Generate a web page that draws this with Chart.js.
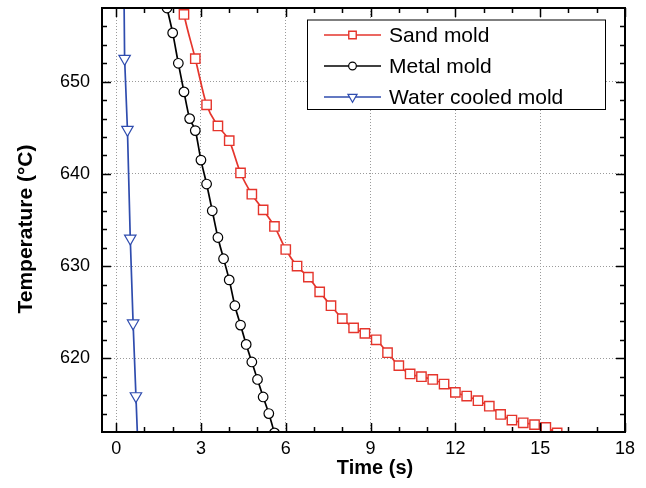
<!DOCTYPE html>
<html>
<head>
<meta charset="utf-8">
<script src="https://cdn.jsdelivr.net/npm/chart.js@4.4.1/dist/chart.umd.min.js"></script>
<style>
  html, body { margin: 0; padding: 0; background: #ffffff; }
  #wrap { width: 646px; height: 488px; }
</style>
</head>
<body>
<div id="wrap"><canvas id="c" width="646" height="488"></canvas></div>
<script>
// ---------- data ----------
const seriesNames = ['Sand mold', 'Metal mold', 'Water cooled mold'];

const sandTime = [2.0, 2.4, 2.8, 3.2, 3.6, 4.0, 4.4, 4.8, 5.2, 5.6, 6.0, 6.4, 6.8, 7.2, 7.6, 8.0, 8.4, 8.8,
                  9.2, 9.6, 10.0, 10.4, 10.8, 11.2, 11.6, 12.0, 12.4, 12.8, 13.2, 13.6, 14.0, 14.4, 14.8, 15.2, 15.6];
const sandTemp = [664.0, 657.3, 652.5, 647.5, 645.2, 643.6, 640.1, 637.8, 636.1, 634.3, 631.8, 630.0, 628.8, 627.2,
                  625.7, 624.3, 623.3, 622.7, 622.0, 620.6, 619.2, 618.3, 618.0, 617.7, 617.2, 616.3, 615.9, 615.4,
                  614.8, 613.9, 613.3, 613.0, 612.8, 612.5, 611.9];

const metalTime = [1.6, 1.8, 2.0, 2.2, 2.4, 2.6, 2.8, 3.0, 3.2, 3.4, 3.6, 3.8, 4.0, 4.2, 4.4, 4.6, 4.8, 5.0, 5.2, 5.4, 5.6];
const metalTemp = [661.0, 658.0, 655.3, 652.0, 648.9, 646.0, 644.7, 641.5, 638.9, 636.0, 633.1, 630.8, 628.5, 625.7,
                   623.6, 621.5, 619.6, 617.7, 615.8, 614.0, 611.9];

const waterTime = [0.2, 0.3, 0.4, 0.5, 0.6, 0.7, 0.8];
const waterTemp = [685.0, 652.5, 644.8, 633.0, 623.8, 615.9, 608.0];

const xTickLabels = [0, 3, 6, 9, 12, 15, 18];
const yTickLabels = [620, 630, 640, 650];
const xRange = [-0.5, 18];
const yRange = [612, 658];
const xMinorStep = 1;
const yMinorStep = 2;

const xTitle = 'Time (s)';
const yTitle = 'Temperature (°C)';

// ---------- helpers ----------
const toPoints = (xs, ys) => xs.map((x, i) => ({ x: x, y: ys[i] }));
const FONT = '"Liberation Sans", Arial, Helvetica, sans-serif';

const colors = { sand: '#e5352c', metal: '#000000', water: '#2f4cae' };

// frame, inward ticks on all sides, titles, legend
const decorations = {
  id: 'decorations',
  afterDraw(chart) {
    const { ctx, chartArea: a, scales: { x, y } } = chart;
    ctx.save();
    // ticks
    ctx.strokeStyle = '#000';
    ctx.lineWidth = 1.5;
    ctx.beginPath();
    for (let v = Math.ceil(xRange[0]); v <= xRange[1]; v += xMinorStep) {
      const px = Math.round(x.getPixelForValue(v)) + 0.5;
      const len = xTickLabels.includes(v) ? 9 : 5;
      ctx.moveTo(px, a.bottom); ctx.lineTo(px, a.bottom - len);
      ctx.moveTo(px, a.top); ctx.lineTo(px, a.top + len);
    }
    for (let v = yRange[0] + yMinorStep; v < yRange[1]; v += yMinorStep) {
      const py = Math.round(y.getPixelForValue(v)) + 0.5;
      const len = yTickLabels.includes(v) ? 9 : 5;
      ctx.moveTo(a.left, py); ctx.lineTo(a.left + len, py);
      ctx.moveTo(a.right, py); ctx.lineTo(a.right - len, py);
    }
    ctx.stroke();
    // frame
    ctx.lineWidth = 2;
    ctx.strokeRect(a.left, a.top, a.right - a.left, a.bottom - a.top);

    // axis titles
    ctx.fillStyle = '#000';
    ctx.textAlign = 'center';
    ctx.textBaseline = 'middle';
    ctx.font = 'bold 20px ' + FONT;
    ctx.fillText(xTitle, 375, 468);
    ctx.save();
    ctx.translate(26, 229);
    ctx.rotate(-Math.PI / 2);
    ctx.font = 'bold 21px ' + FONT;
    ctx.fillText(yTitle, 0, 0);
    ctx.restore();

    // legend
    const L = { x0: 307, y0: 19.5, x1: 606, y1: 110 };
    ctx.fillStyle = '#fff';
    ctx.fillRect(L.x0, L.y0, L.x1 - L.x0, L.y1 - L.y0);
    ctx.strokeStyle = '#000';
    ctx.lineWidth = 1;
    ctx.strokeRect(L.x0 + 0.5, L.y0 + 0.5, L.x1 - L.x0 - 1, L.y1 - L.y0 - 1);
    const rows = [35, 66, 97];
    chart.data.datasets.forEach((ds, i) => {
      const cy = rows[i];
      ctx.strokeStyle = ds.borderColor;
      ctx.lineWidth = 1.5;
      ctx.beginPath();
      ctx.moveTo(324, cy); ctx.lineTo(381, cy);
      ctx.stroke();
      ctx.fillStyle = '#fff';
      ctx.strokeStyle = ds.pointBorderColor;
      ctx.lineWidth = ds.pointBorderWidth;
      Chart.helpers.drawPoint(ctx, {
        pointStyle: ds.pointStyle, rotation: ds.pointRotation || 0,
        radius: ds.pointRadius * 0.8, borderWidth: ds.pointBorderWidth
      }, 352.5, cy);
      ctx.fillStyle = '#000';
      ctx.font = '21px ' + FONT;
      ctx.textAlign = 'left';
      ctx.textBaseline = 'middle';
      ctx.fillText(ds.label, 389, cy + 1);
    });
    ctx.restore();
  }
};

new Chart(document.getElementById('c'), {
  type: 'line',
  data: {
    datasets: [
      {
        label: seriesNames[0],
        data: toPoints(sandTime, sandTemp),
        borderColor: colors.sand, borderWidth: 1.7,
        pointStyle: 'rect', pointRadius: 6.6, pointBorderWidth: 1.4,
        pointBackgroundColor: '#fff', pointBorderColor: colors.sand,
        cubicInterpolationMode: 'monotone'
      },
      {
        label: seriesNames[1],
        data: toPoints(metalTime, metalTemp),
        borderColor: colors.metal, borderWidth: 1.7,
        pointStyle: 'circle', pointRadius: 4.8, pointBorderWidth: 1.2,
        pointBackgroundColor: '#fff', pointBorderColor: colors.metal,
        cubicInterpolationMode: 'monotone'
      },
      {
        label: seriesNames[2],
        data: toPoints(waterTime, waterTemp),
        borderColor: colors.water, borderWidth: 1.7,
        pointStyle: 'triangle', pointRotation: 180, pointRadius: 6.6, pointBorderWidth: 1.2,
        pointBackgroundColor: '#fff', pointBorderColor: colors.water,
        tension: 0
      }
    ]
  },
  options: {
    responsive: false,
    animation: false,
    devicePixelRatio: 1,
    layout: { padding: { left: 0, right: 21, top: 7, bottom: 0 } },
    plugins: { legend: { display: false }, tooltip: { enabled: false } },
    scales: {
      x: {
        type: 'linear',
        min: xRange[0], max: xRange[1],
        afterBuildTicks: (s) => { s.ticks = xTickLabels.map(v => ({ value: v })); },
        afterFit: (s) => { s.height = 56; s.paddingLeft = 0; s.paddingRight = 0; },
        grid: { color: '#9a9a9a', lineWidth: 1, drawTicks: false },
        border: { display: false, dash: [1, 2] },
        ticks: { color: '#000', font: { family: FONT, size: 18 }, padding: 6, maxRotation: 0 }
      },
      y: {
        type: 'linear',
        min: yRange[0], max: yRange[1],
        afterBuildTicks: (s) => { s.ticks = yTickLabels.map(v => ({ value: v })); },
        afterFit: (s) => { s.width = 102; s.paddingTop = 0; s.paddingBottom = 0; },
        grid: { color: '#9a9a9a', lineWidth: 1, drawTicks: false },
        border: { display: false, dash: [1, 2] },
        ticks: { color: '#000', font: { family: FONT, size: 18 }, padding: 12 }
      }
    }
  },
  plugins: [decorations]
});
</script>
</body>
</html>
